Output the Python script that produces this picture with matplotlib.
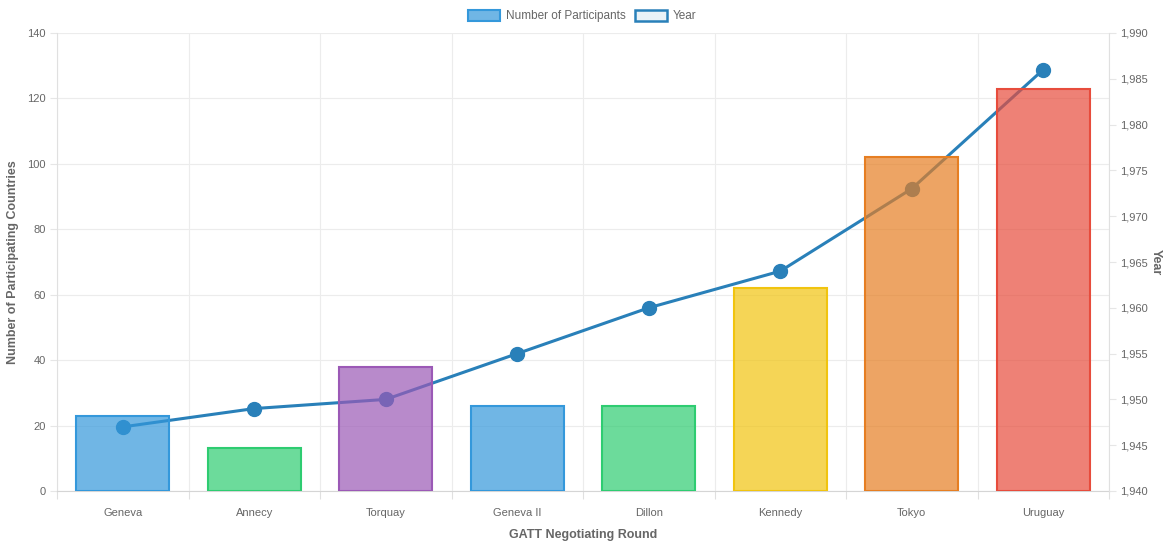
import matplotlib
matplotlib.use("Agg")
import matplotlib.pyplot as plt
from matplotlib.patches import Patch
from matplotlib.ticker import FuncFormatter, MultipleLocator
from matplotlib.colors import to_rgba

rounds = ["Geneva", "Annecy", "Torquay", "Geneva II", "Dillon", "Kennedy", "Tokyo", "Uruguay"]
participants = [23, 13, 38, 26, 26, 62, 102, 123]
years = [1947, 1949, 1950, 1955, 1960, 1964, 1973, 1986]
bar_colors = ["#3498db", "#2ecc71", "#9b59b6", "#3498db", "#2ecc71", "#f1c40f", "#e67e22", "#e74c3c"]
line_color = "#2980b9"

plt.rcParams['font.family'] = ['Liberation Sans', 'DejaVu Sans']
TXT = "#666666"
TICK_FS = 8
TITLE_FS = 9

fig = plt.figure(figsize=(11.64, 5.42), dpi=100)
ax = fig.add_axes([57/1164, 51/542, (1109-57)/1164, (491-33)/542])
x = list(range(len(rounds)))

# base axis: grid + left ticks
ax.set_xlim(-0.5, len(rounds) - 0.5)
ax.set_ylim(0, 140)
ax.yaxis.set_major_locator(MultipleLocator(20))
ax.set_xticks(x)
ax.set_xticklabels(rounds)
ax.set_xticks([i + 0.5 for i in range(-1, len(rounds))], minor=True)
ax.grid(axis='y', color='#ececec', linewidth=0.8)
ax.grid(axis='x', which='minor', color='#ececec', linewidth=0.8)
ax.tick_params(axis='x', which='major', length=0, pad=12, labelsize=TICK_FS, labelcolor=TXT)
ax.tick_params(axis='x', which='minor', length=6, color='#e0e0e0', width=0.8)
ax.tick_params(axis='y', length=5, color='#e6e6e6', width=0.8, labelsize=TICK_FS, labelcolor=TXT, pad=3)
for s in ['top', 'right']:
    ax.spines[s].set_visible(False)
ax.spines['left'].set_color('#e0e0e0')
ax.spines['bottom'].set_color('#d5d5d5')
ax.set_ylabel("Number of Participating Countries", fontsize=TITLE_FS, fontweight='bold', color=TXT, labelpad=6)
ax.set_xlabel("GATT Negotiating Round", fontsize=TITLE_FS, fontweight='bold', color=TXT, labelpad=8)

# line axis (right)
ax2 = ax.twinx()
ax2.set_ylim(1940, 1990)
ax2.yaxis.set_major_locator(MultipleLocator(5))
ax2.yaxis.set_major_formatter(FuncFormatter(lambda v, p: f"{int(v):,}"))
ax2.plot(x, years, color=line_color, linewidth=2.2, marker='o', markersize=10, zorder=2)
ax2.tick_params(axis='y', length=5, color='#e6e6e6', width=0.8, labelsize=TICK_FS, labelcolor=TXT, pad=3)
for s in ['top', 'left', 'bottom']:
    ax2.spines[s].set_visible(False)
ax2.spines['right'].set_color('#e0e0e0')
ax2.set_ylabel("Year", fontsize=TITLE_FS, fontweight='bold', color=TXT, rotation=270, labelpad=10)

# bars on top
ax3 = ax.twinx()
ax3.set_ylim(0, 140)
ax3.set_xlim(-0.5, len(rounds) - 0.5)
ax3.bar(x, participants, width=0.71,
        color=[to_rgba(c, 0.7) for c in bar_colors],
        edgecolor=bar_colors, linewidth=1.5)
ax3.axis('off')

handles = [
    Patch(facecolor=to_rgba("#3498db", 0.7), edgecolor="#3498db", linewidth=1.5, label="Number of Participants"),
    Patch(facecolor=to_rgba(line_color, 0.1), edgecolor=line_color, linewidth=1.8, label="Year"),
]
fig.legend(handles=handles, loc='center', bbox_to_anchor=(0.5, 1 - 16/542), ncol=2, frameon=False,
           fontsize=8.5, labelcolor=TXT, handlelength=2.7, handleheight=1.1, columnspacing=0.8, handletextpad=0.5)

fig.savefig("out.png", dpi=100)
